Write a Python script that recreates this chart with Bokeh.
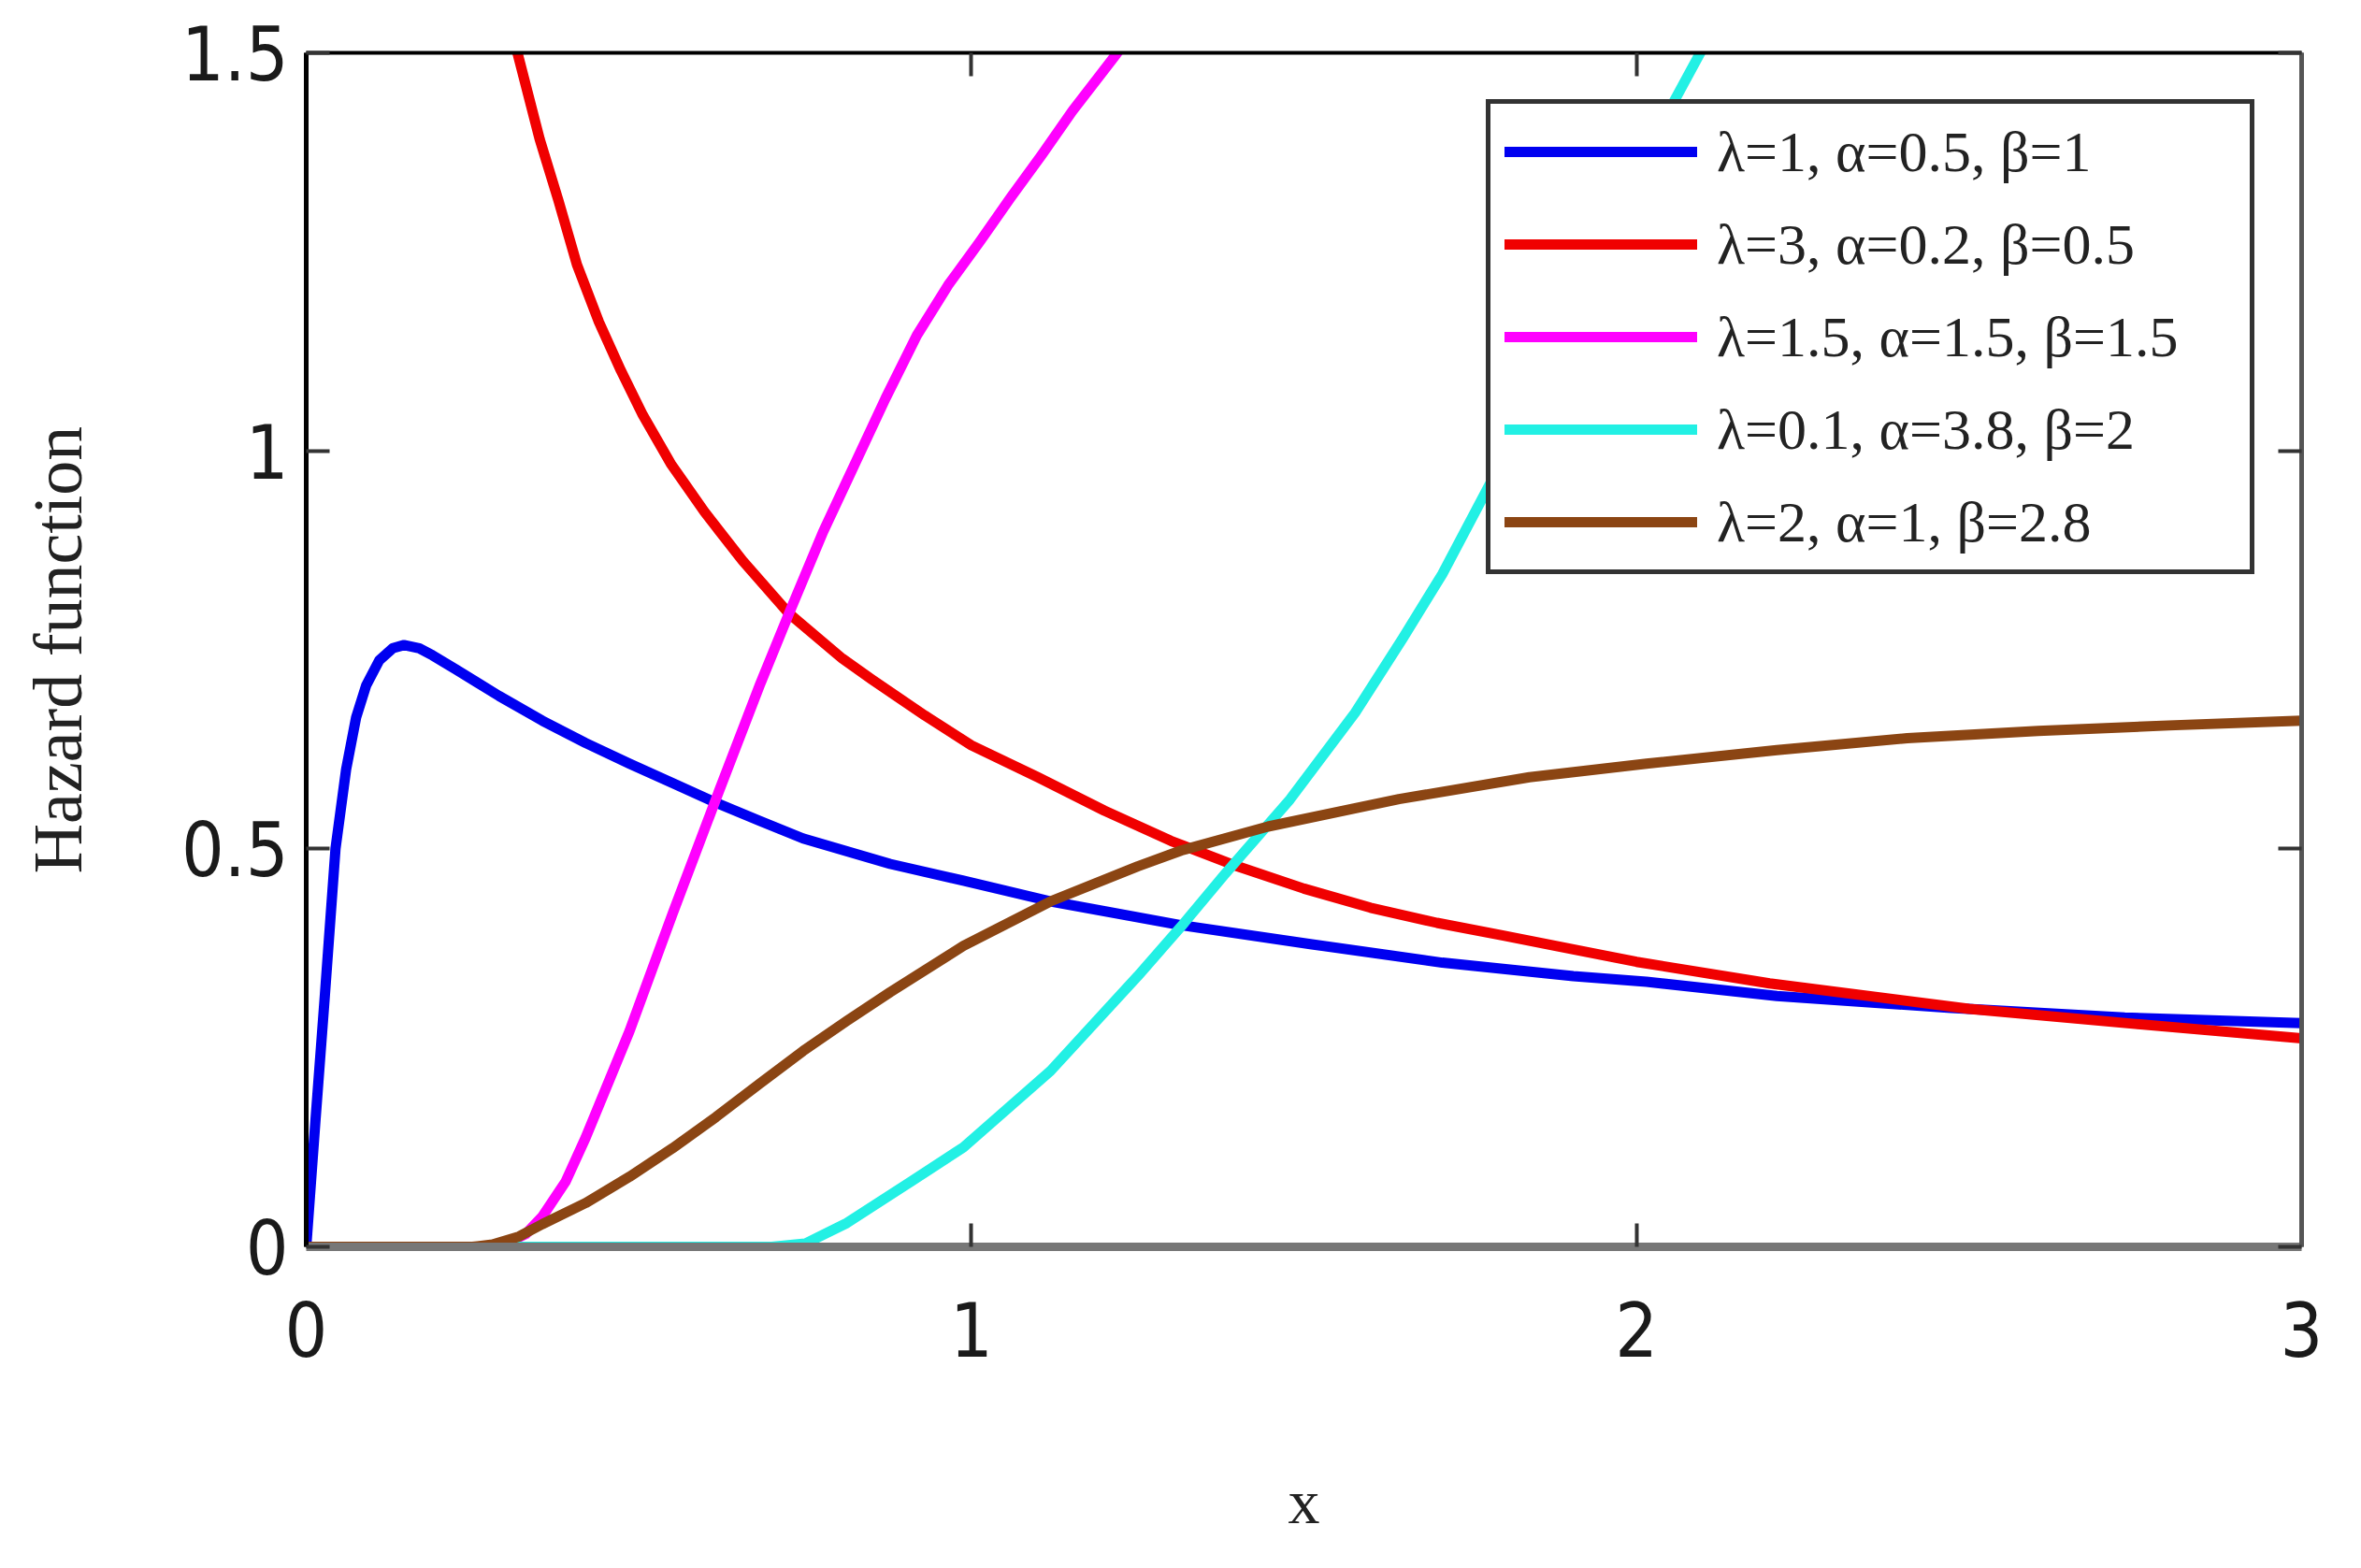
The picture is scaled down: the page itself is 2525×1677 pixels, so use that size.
from bokeh.plotting import figure
from bokeh.models import Range1d, LinearAxis, FixedTicker, Legend, LegendItem
from bokeh.embed import file_html
from bokeh.resources import INLINE

# ---------------- data ----------------
x_ticks = [0, 1, 2, 3]
x_tick_labels = ["0", "1", "2", "3"]
y_ticks = [0, 0.5, 1, 1.5]
y_tick_labels = ["0", "0.5", "1", "1.5"]

series_labels = [
    "λ=1, α=0.5, β=1",
    "λ=3, α=0.2, β=0.5",
    "λ=1.5, α=1.5, β=1.5",
    "λ=0.1, α=3.8, β=2",
    "λ=2, α=1, β=2.8",
]

blue_x = [0.0, 0.007, 0.014, 0.0275, 0.044, 0.060, 0.075, 0.090, 0.110, 0.130, 0.147, 0.170,
          0.190, 0.224, 0.290, 0.355, 0.420, 0.486, 0.550, 0.616, 0.682, 0.747, 0.878, 0.988,
          1.119, 1.316, 1.512, 1.708, 1.905, 2.015, 2.211, 2.473, 2.734, 3.0]
blue_y = [0.0, 0.08, 0.16, 0.31, 0.50, 0.600, 0.665, 0.705, 0.737, 0.752, 0.756, 0.752,
          0.743, 0.726, 0.692, 0.661, 0.633, 0.607, 0.583, 0.558, 0.535, 0.513, 0.481, 0.460,
          0.434, 0.404, 0.380, 0.357, 0.340, 0.333, 0.315, 0.300, 0.288, 0.281]

red_x = [0.300, 0.318, 0.351, 0.379, 0.407, 0.440, 0.473, 0.506, 0.548, 0.599, 0.656, 0.726,
         0.806, 0.850, 0.930, 1.00, 1.10, 1.20, 1.30, 1.40, 1.50, 1.60, 1.70, 1.80, 2.00,
         2.20, 2.50, 2.75, 3.00]
red_y = [1.555, 1.4985, 1.3915, 1.315, 1.234, 1.162, 1.101, 1.045, 0.984, 0.923, 0.862, 0.7955,
         0.739, 0.713, 0.6675, 0.630, 0.590, 0.548, 0.510, 0.478, 0.450, 0.426, 0.407, 0.391,
         0.358, 0.331, 0.299, 0.280, 0.262]

magenta_x = [0.0, 0.27, 0.30, 0.33, 0.355, 0.39, 0.42, 0.486, 0.551, 0.616, 0.682, 0.725,
             0.777, 0.824, 0.871, 0.918, 0.965, 1.012, 1.059, 1.106, 1.152, 1.218, 1.25]
magenta_y = [0.0, 0.0, 0.004, 0.016, 0.038, 0.082, 0.137, 0.271, 0.419, 0.5625, 0.706, 0.794,
             0.898, 0.982, 1.066, 1.145, 1.208, 1.262, 1.318, 1.372, 1.427, 1.4985, 1.535]

cyan_x = [0.0, 0.70, 0.75, 0.813, 0.911, 0.988, 1.119, 1.250, 1.316, 1.381, 1.479, 1.577,
          1.649, 1.708, 1.787, 1.85, 1.95, 2.057, 2.096, 2.13]
cyan_y = [0.0, 0.0, 0.004, 0.030, 0.083, 0.125, 0.221, 0.340, 0.403, 0.468, 0.562, 0.671,
          0.765, 0.845, 0.970, 1.075, 1.245, 1.44, 1.50, 1.56]

brown_x = [0.0, 0.25, 0.28, 0.32, 0.355, 0.42, 0.486, 0.551, 0.616, 0.682, 0.747, 0.813,
           0.878, 0.988, 1.119, 1.25, 1.316, 1.446, 1.643, 1.839, 2.015, 2.211, 2.407, 2.604,
           2.80, 3.0]
brown_y = [0.0, 0.0, 0.003, 0.013, 0.0285, 0.055, 0.088, 0.124, 0.163, 0.205, 0.246, 0.284,
           0.320, 0.378, 0.434, 0.478, 0.498, 0.528, 0.5625, 0.590, 0.607, 0.624, 0.639, 0.648,
           0.655, 0.661]

colors = ["#0000F0", "#F00000", "#FF00FF", "#22F0E4", "#8B4513"]

# ---------------- figure ----------------
TICK_FONT = "'Liberation Sans Narrow', 'DejaVu Sans Condensed', 'Liberation Sans'"
SERIF = "Liberation Serif"

p = figure(width=2509, height=1661, output_backend="svg", toolbar_location=None,
           x_range=Range1d(0, 3), y_range=Range1d(0, 1.5),
           min_border_left=327, min_border_right=48, min_border_top=56, min_border_bottom=328)
p.outline_line_color = None
p.xgrid.visible = False
p.ygrid.visible = False
p.background_fill_color = "white"
p.border_fill_color = "white"

xs = [blue_x, red_x, magenta_x, cyan_x, brown_x]
ys = [blue_y, red_y, magenta_y, cyan_y, brown_y]
renderers = []
for x, y, c in zip(xs, ys, colors):
    r = p.line(x, y, line_width=11, line_color=c, line_join="round", line_cap="round")
    renderers.append(r)


def style_axis(ax, line_color, line_width, show_labels):
    ax.major_tick_in = 25
    ax.major_tick_out = 0
    ax.minor_tick_in = 0
    ax.minor_tick_out = 0
    ax.major_tick_line_color = "#333333"
    ax.major_tick_line_width = 4
    ax.axis_line_color = line_color
    ax.axis_line_width = line_width
    if not show_labels:
        ax.major_label_standoff = 0
        ax.major_label_text_font_size = "10px"


xa = p.xaxis[0]
ya = p.yaxis[0]
xa.ticker = FixedTicker(ticks=x_ticks)
ya.ticker = FixedTicker(ticks=y_ticks)
xa.major_label_overrides = {t: s for t, s in zip(x_ticks, x_tick_labels)}
ya.major_label_overrides = {t: s for t, s in zip(y_ticks, y_tick_labels)}
style_axis(xa, "#777777", 9, True)
style_axis(ya, "black", 5, True)
for ax in (xa, ya):
    ax.major_label_text_font = TICK_FONT
    ax.major_label_text_font_size = "80px"
    ax.major_label_text_color = "#1a1a1a"
    ax.axis_label_text_font = SERIF
    ax.axis_label_text_font_style = "normal"
    ax.axis_label_text_color = "#222222"
xa.major_label_standoff = 58
ya.major_label_standoff = 19
xa.axis_label = "x"
xa.axis_label_text_font_size = "68px"
xa.axis_label_standoff = 114
ya.axis_label = "Hazard function"
ya.axis_label_text_font_size = "74px"
ya.axis_label_standoff = 88

right_ax = LinearAxis(ticker=FixedTicker(ticks=y_ticks),
                      major_label_overrides={t: "" for t in y_ticks})
style_axis(right_ax, "#555555", 5, False)
p.add_layout(right_ax, "right")

top_ax = LinearAxis(ticker=FixedTicker(ticks=x_ticks),
                    major_label_overrides={t: "" for t in x_ticks})
style_axis(top_ax, "black", 4, False)
p.add_layout(top_ax, "above")

legend = Legend(
    items=[LegendItem(label=lab, renderers=[r]) for lab, r in zip(series_labels, renderers)],
    location="top_right", margin=50, padding=15, spacing=27,
    glyph_width=206, glyph_height=72, label_height=72, label_width=555, label_standoff=21,
    label_text_font=SERIF, label_text_font_size="62px", label_text_color="#222222",
    border_line_color="#333333", border_line_width=5, border_line_alpha=1.0,
    background_fill_color="white", background_fill_alpha=1.0,
)
p.add_layout(legend)

open("out.html", "w").write(file_html(p, INLINE))
